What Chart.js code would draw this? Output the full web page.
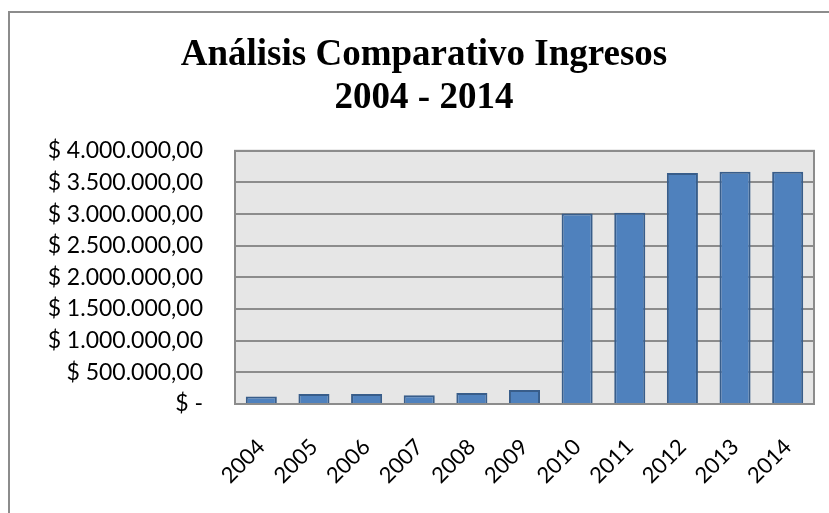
<!DOCTYPE html>
<html>
<head>
<meta charset="utf-8">
<script src="https://cdn.jsdelivr.net/npm/chart.js@4"></script>
<style>
  html, body { margin: 0; padding: 0; background: #fff; overflow: hidden; }
  #wrap { position: relative; width: 829px; height: 513px; }
  #frame { position: absolute; left: 8px; top: 11px; width: 900px; height: 600px;
           border-left: 2px solid #8c8c8c; border-top: 2px solid #8c8c8c; pointer-events: none; }
</style>
</head>
<body>
<div id="wrap">
  <canvas id="chart" width="829" height="513"></canvas>
  <div id="frame"></div>
</div>
<script>
var years = ['2004', '2005', '2006', '2007', '2008', '2009', '2010', '2011', '2012', '2013', '2014'];
var ingresos = [120000, 158000, 158000, 140000, 175000, 220000, 3010000, 3020000, 3650000, 3670000, 3670000];
var yMax = 4000000;
var yStep = 500000;

function formatPeso(v) {
  if (v === 0) return '$ -';
  var s = Math.round(v).toString().replace(/\B(?=(\d{3})+(?!\d))/g, '.');
  return '$ ' + s + ',00';
}

// light grey plot background + grey frame round the plot
var plotBg = {
  id: 'plotBg',
  beforeDraw: function(chart) {
    var a = chart.chartArea, c = chart.ctx;
    c.save();
    c.fillStyle = '#e6e6e6';
    c.fillRect(a.left, a.top, a.right - a.left, a.bottom - a.top);
    c.restore();
  },
  afterDatasetsDraw: function(chart) {
    var a = chart.chartArea, c = chart.ctx;
    c.save();
    c.strokeStyle = '#8c8c8c';
    c.lineWidth = 2;
    c.strokeRect(a.left, a.top, a.right - a.left, a.bottom - a.top);
    c.restore();
  }
};

var ctx = document.getElementById('chart').getContext('2d');
new Chart(ctx, {
  type: 'bar',
  data: {
    labels: years,
    datasets: [{
      label: 'Ingresos',
      data: ingresos,
      backgroundColor: '#4f81bd',
      borderColor: '#385d8a',
      borderWidth: 2,
      barPercentage: 0.59,
      categoryPercentage: 1
    }]
  },
  options: {
    responsive: false,
    animation: false,
    layout: { padding: { top: 34, right: 15, left: 34, bottom: 0 } },
    scales: {
      y: {
        min: 0,
        max: yMax,
        afterFit: function(scale) { scale.width = 201; },
        ticks: {
          stepSize: yStep,
          padding: 32,
          color: '#000',
          font: { family: 'Lato', size: 23 },
          callback: function(v) { return formatPeso(v); }
        },
        grid: { color: '#8c8c8c', lineWidth: 2, drawTicks: false },
        border: { display: false }
      },
      x: {
        afterFit: function(scale) {
          scale.height = 109;
          scale.paddingLeft = 0;
          scale.paddingRight = 0;
        },
        ticks: {
          minRotation: 45,
          maxRotation: 45,
          padding: 30,
          color: '#000',
          font: { family: 'Lato', size: 22 }
        },
        grid: { display: false, drawTicks: false },
        border: { display: false }
      }
    },
    plugins: {
      legend: { display: false },
      tooltip: { enabled: false },
      title: {
        display: true,
        text: ['Análisis Comparativo Ingresos', '2004 - 2014'],
        color: '#000',
        font: { family: 'Liberation Serif', size: 37, weight: 'bold', lineHeight: 1.16 },
        padding: { top: 0, bottom: 31 }
      }
    }
  },
  plugins: [plotBg]
});
</script>
</body>
</html>
